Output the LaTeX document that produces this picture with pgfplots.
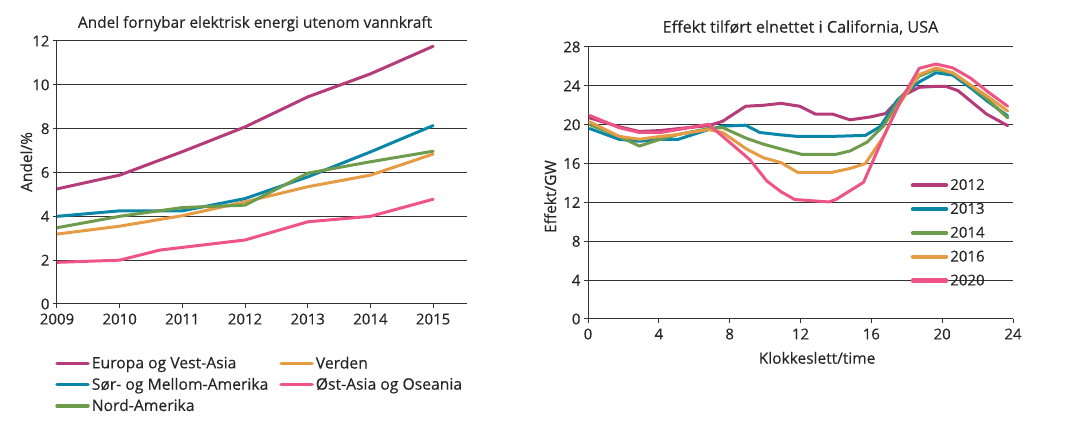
\documentclass[border=0pt]{standalone}
\usepackage{fontspec}
\setmainfont{Open Sans}[FakeBold=0.3]
\usepackage{pgfplots}
\pgfplotsset{compat=1.18}
\definecolor{cEU}{HTML}{B43C78}
\definecolor{cSA}{HTML}{0A87A8}
\definecolor{cNA}{HTML}{6E9C4C}
\definecolor{cW}{HTML}{E59C45}
\definecolor{cEA}{HTML}{EE5585}
\definecolor{gridc}{HTML}{333333}
\definecolor{txt}{HTML}{262626}
\pgfplotsset{
  base/.style={
    scale only axis,
    axis lines=left,
    axis line style={-, gridc, line width=1pt},
    ymajorgrids,
    grid style={gridc, line width=1pt},
    tick style={gridc, line width=1pt},
    tick align=outside,
    major tick length=4pt,
    /pgf/number format/assume math mode=true,
    tick label style={font=\fontsize{15}{17}\selectfont, text=txt},
    label style={font=\fontsize{15.5}{18}\selectfont, text=txt},
    title style={font=\fontsize{15.4}{18}\selectfont, text=txt},
    every axis plot/.append style={line width=3pt, line join=round, line cap=round},
  }
}
\begin{document}
\begin{tikzpicture}[x=1pt,y=1pt]
\useasboundingbox (0,0) rectangle (1080,422);
% ---------- left chart ----------
\begin{axis}[base,
  at={(57pt,118pt)}, anchor=south west,
  width=410pt, height=263pt,
  xmin=2009, xmax=2015.54, ymin=0, ymax=12,
  xtick={2009,...,2015}, ytick={0,2,...,12},
  xticklabel style={/pgf/number format/1000 sep={}, yshift=-2pt},
  title={Andel fornybar elektrisk energi utenom vannkraft},
  title style={at={(axis description cs:0.483,1.0)}, anchor=south},
  ylabel={Andel/\%},
  ylabel style={at={(axis description cs:-0.075,0.54)}, anchor=center},
  legend columns=2,
  legend cell align=left,
  legend image code/.code={\draw[#1, line width=3.5pt, line cap=round] (0pt,0pt) -- (31pt,0pt);},
  legend style={draw=none, fill=none, font=\fontsize{15.7}{19}\selectfont, text=txt,
    at={(axis description cs:-0.012,-0.184)}, anchor=north west,
    row sep=3.8pt,
    /tikz/every even column/.append style={column sep=9pt}},
]
\addplot[cEU] coordinates {(2009,5.25)(2010,5.88)(2011,6.95)(2012,8.08)(2013,9.45)(2014,10.5)(2015,11.76)};
\addlegendentry{Europa og Vest-Asia}
\addplot[cW] coordinates {(2009,3.19)(2010,3.55)(2011,4.03)(2012,4.66)(2013,5.35)(2014,5.88)(2015,6.84)};
\addlegendentry{Verden}
\addplot[cSA] coordinates {(2009,4.0)(2010,4.25)(2011,4.25)(2012,4.81)(2013,5.8)(2014,6.94)(2015,8.14)};
\addlegendentry{Sør- og Mellom-Amerika}
\addplot[cEA] coordinates {(2009,1.9)(2010,2.0)(2010.64,2.46)(2012,2.92)(2013,3.75)(2014,4.0)(2015,4.78)};
\addlegendentry{Øst-Asia og Oseania}
\addplot[cNA] coordinates {(2009,3.48)(2010,4.0)(2011,4.4)(2012,4.51)(2013,5.97)(2014,6.49)(2015,6.97)};
\addlegendentry{Nord-Amerika}
\end{axis}
% ---------- right chart ----------
\begin{axis}[base,
  at={(588pt,103pt)}, anchor=south west,
  width=425pt, height=272pt,
  xmin=0, xmax=24, ymin=0, ymax=28,
  xtick={0,4,...,24}, ytick={0,4,...,28},
  xticklabel style={yshift=-2pt},
  title={Effekt tilført elnettet i California, USA},
  title style={font=\fontsize{16.2}{19}\selectfont, at={(axis description cs:0.5,1.01)}, anchor=south},
  xlabel={Klokkeslett/time},
  xlabel style={at={(axis description cs:0.539,-0.143)}, anchor=center},
  ylabel={Effekt/GW},
  ylabel style={at={(axis description cs:-0.089,0.45)}, anchor=center},
  legend cell align=left,
  legend image code/.code={\draw[#1, line width=4.5pt, line cap=round] (0pt,0pt) -- (33pt,0pt);},
  legend style={draw=none, fill=none, font=\fontsize{15}{18}\selectfont, text=txt,
    at={(axis description cs:0.752,0.53)}, anchor=north west,
    row sep=7.5pt},
]
\addplot[cEU] coordinates {(0.1,20.7)(1,20.2)(1.75,19.8)(2.9,19.3)(4.1,19.4)(5.1,19.6)(6.8,19.9)(7.6,20.35)(8.9,21.9)(9.9,22.0)(10.9,22.2)(11.96,21.9)(12.84,21.1)(13.8,21.1)(14.8,20.5)(15.95,20.8)(16.8,21.15)(17.7,22.9)(18.7,23.85)(19.65,23.95)(20.2,23.95)(20.9,23.5)(21.7,22.3)(22.5,21.1)(23.7,19.9)};
\addlegendentry{2012}
\addplot[cSA] coordinates {(0.1,19.6)(1.75,18.5)(2.9,18.3)(4.1,18.5)(5.1,18.5)(6.8,19.5)(7.6,19.85)(8.9,19.95)(9.7,19.2)(10.9,18.95)(11.8,18.8)(13.8,18.8)(15.66,18.9)(16.5,19.8)(17.5,22.6)(18.7,24.4)(19.65,25.35)(20.6,25.1)(21.6,23.8)(22.57,22.4)(23.7,20.9)};
\addlegendentry{2013}
\addplot[cNA] coordinates {(0.1,20.0)(1.75,18.8)(2.9,17.8)(3.9,18.4)(5.1,19.0)(6.8,19.6)(7.6,19.7)(8.95,18.6)(9.9,18.0)(10.9,17.5)(12.06,16.95)(14.0,16.95)(14.8,17.3)(15.76,18.2)(16.7,19.9)(17.7,22.9)(18.7,25.0)(19.65,25.7)(20.6,25.3)(21.6,24.0)(22.57,22.6)(23.7,20.7)};
\addlegendentry{2014}
\addplot[cW] coordinates {(0.1,20.3)(1.75,18.8)(2.9,18.5)(4.1,18.8)(5.1,19.0)(6.8,19.5)(7.6,19.2)(8.95,17.5)(9.9,16.6)(10.9,16.1)(11.83,15.1)(13.8,15.1)(14.8,15.5)(15.66,16.0)(16.7,18.8)(17.5,21.9)(18.7,25.15)(19.65,25.85)(20.6,25.35)(21.6,24.1)(22.57,22.9)(23.7,21.4)};
\addlegendentry{2016}
\addplot[cEA] coordinates {(0.1,20.95)(1.75,19.7)(2.9,19.2)(4.1,19.2)(5.1,19.5)(6.8,20.05)(9.14,16.4)(10.1,14.2)(10.9,13.1)(11.67,12.3)(13.6,12.05)(14.0,12.3)(15.56,14.07)(16.7,18.8)(17.7,22.6)(18.7,25.8)(19.65,26.25)(20.6,25.85)(21.6,24.8)(22.57,23.4)(23.7,21.9)};
\addlegendentry{2020}
\end{axis}
\end{tikzpicture}
\end{document}
